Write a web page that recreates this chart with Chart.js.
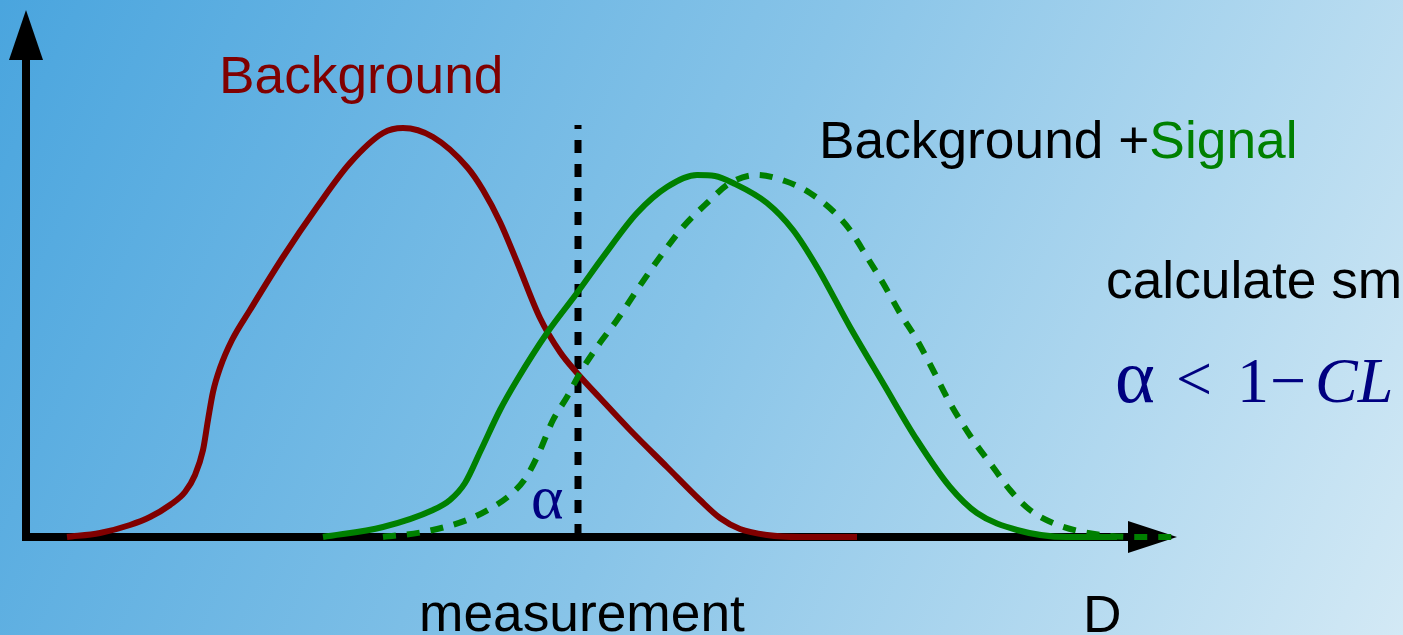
<!DOCTYPE html>
<html>
<head>
<meta charset="utf-8">
<title>Background vs Background+Signal</title>
<style>
  html, body { margin: 0; padding: 0; overflow: hidden; background: #8dc6e8; }
  #wrap { width: 1403px; height: 635px; }
</style>
</head>
<body>
<div id="wrap"><canvas id="myChart" width="1403" height="635"></canvas></div>
<script src="https://cdn.jsdelivr.net/npm/chart.js@4/dist/chart.umd.min.js"></script>
<script>
// test statistic D on x, probability density on y (arbitrary units)
var bkgX = [4.1, 7.4, 10.4, 12.4, 14.4, 15.9, 16.9, 17.7, 18.2, 18.7, 19.4, 20.6, 22.4, 25.7, 29.1, 32.4, 35.7, 37.7, 40.7, 44.1, 45.7, 47.4, 49.1, 51.4, 53.4, 55.1, 57.4, 60.4, 64.1, 67.4, 69.4, 71.4, 74.1, 77.4, 83.1];
var bkgY = [0, 0.4, 1.2, 2.0, 3.2, 4.5, 6.2, 8.7, 11.7, 14.5, 16.9, 19.7, 22.7, 28.0, 33.0, 37.4, 40.4, 40.9, 40.0, 37.0, 34.7, 31.5, 27.5, 21.9, 18.5, 16.4, 13.9, 10.7, 7.0, 3.7, 1.9, 0.8, 0.2, 0, 0];

var sigX = [29.7, 35.7, 40.7, 42.4, 43.9, 45.5, 47.4, 49.1, 52.1, 55.1, 57.7, 61.1, 64.1, 67.1, 68.9, 70.7, 74.1, 76.7, 79.1, 82.4, 85.7, 89.1, 92.4, 95.1, 99.1, 104.1, 109.1];
var sigY = [0, 1.0, 2.7, 3.7, 5.4, 8.7, 12.7, 15.7, 20.4, 24.4, 28.0, 32.4, 35.0, 36.2, 36.1, 35.4, 33.4, 30.7, 27.0, 21.0, 15.4, 9.7, 5.0, 2.4, 0.7, 0, 0];

var sig2X = [35.7, 39.7, 44.1, 46.7, 48.4, 49.9, 51.2, 52.7, 54.1, 55.4, 57.1, 59.1, 61.1, 63.4, 65.7, 68.1, 70.4, 73.1, 75.9, 78.4, 80.7, 82.4, 84.1, 85.7, 87.4, 89.1, 90.7, 92.4, 94.7, 96.7, 98.4, 100.4, 102.7, 105.7, 110.7, 114.7];
var sig2Y = [0, 0.5, 1.7, 3.0, 4.2, 5.8, 8.2, 11.7, 14.0, 16.4, 19.0, 21.7, 24.7, 28.0, 31.0, 33.4, 35.4, 36.2, 35.6, 34.4, 32.6, 30.7, 28.0, 25.4, 22.4, 19.7, 16.7, 13.4, 9.7, 7.0, 4.7, 2.7, 1.4, 0.5, 0, 0];

var measuredD = 55.2;
var cutTop = 41.2;
var axisEndX = 115.1;
var axisEndY = 52.7;

function pts(xs, ys) {
  return xs.map(function (x, i) { return { x: x, y: ys[i] }; });
}

var RED = '#800000';
var GREEN = '#008000';
var NAVY = '#000080';
var SANS = '51px "Liberation Sans", Arial, sans-serif';
var SERIF = '"Liberation Serif", "DejaVu Serif", serif';

var bgPlugin = {
  id: 'bg',
  beforeDraw: function (chart) {
    var c = chart.ctx;
    var g = c.createLinearGradient(0, 0, chart.width, chart.height);
    g.addColorStop(0, '#4aa5de');
    g.addColorStop(0.5, '#88c4e8');
    g.addColorStop(1, '#d3e9f5');
    c.save();
    c.fillStyle = g;
    c.fillRect(0, 0, chart.width, chart.height);
    c.restore();
  }
};

var axesPlugin = {
  id: 'axes',
  beforeDatasetsDraw: function (chart) {
    var c = chart.ctx;
    var xs = chart.scales.x, ys = chart.scales.y;
    var x0 = xs.getPixelForValue(0), y0 = ys.getPixelForValue(0);
    var xe = xs.getPixelForValue(axisEndX), ye = ys.getPixelForValue(axisEndY);
    c.save();
    c.fillStyle = '#000';
    c.strokeStyle = '#000';
    c.lineWidth = 8;
    c.beginPath();
    c.moveTo(x0, y0 + 4);
    c.lineTo(x0, ye + 45);
    c.stroke();
    c.beginPath();
    c.moveTo(x0 - 4, y0);
    c.lineTo(xe - 45, y0);
    c.stroke();
    // arrow heads
    c.beginPath();
    c.moveTo(x0, ye);
    c.lineTo(x0 - 17, ye + 50);
    c.lineTo(x0 + 17, ye + 50);
    c.closePath();
    c.fill();
    c.beginPath();
    c.moveTo(xe, y0);
    c.lineTo(xe - 49, y0 - 16);
    c.lineTo(xe - 49, y0 + 16);
    c.closePath();
    c.fill();
    c.restore();
  }
};

// sans text in the slide is a little wider than Liberation Sans
function wideText(c, txt, x, y, color) {
  c.save();
  c.translate(x, y);
  c.scale(1.045, 1);
  c.fillStyle = color;
  c.fillText(txt, 0, 0);
  var w = c.measureText(txt).width * 1.045;
  c.restore();
  return w;
}

var textPlugin = {
  id: 'labels',
  afterDatasetsDraw: function (chart) {
    var c = chart.ctx;
    c.save();
    c.textBaseline = 'alphabetic';
    c.textAlign = 'left';
    c.font = SANS;
    wideText(c, 'Background', 219, 93, RED);
    var w = wideText(c, 'Background +', 819, 158, '#000');
    wideText(c, 'Signal', 819 + w, 158, GREEN);
    wideText(c, 'calculate sm', 1106, 298, '#000');
    wideText(c, 'measurement', 419, 631, '#000');
    wideText(c, 'D', 1083, 632, '#000');

    // formula  alpha < 1 - CL
    c.fillStyle = NAVY;
    c.font = '76px ' + SERIF;
    c.fillText('\u03b1', 1115, 402);
    c.font = '64px ' + SERIF;
    c.fillText('<', 1176, 400);
    c.fillText('1', 1237, 402);
    c.fillText('\u2212', 1270, 402);
    c.font = 'italic 64px ' + SERIF;
    c.fillText('CL', 1315, 402);

    c.font = '62px ' + SERIF;
    c.fillText('\u03b1', 531, 518);
    c.restore();
  }
};

var ctx = document.getElementById('myChart').getContext('2d');
var chart = new Chart(ctx, {
  type: 'line',
  data: {
    datasets: [
      {
        label: 'Background + Signal',
        data: pts(sigX, sigY),
        borderColor: GREEN,
        borderWidth: 6,
        cubicInterpolationMode: 'monotone',
        pointRadius: 0,
        fill: false,
        order: 1
      },
      {
        label: 'Background + Signal (shifted)',
        data: pts(sig2X, sig2Y),
        borderColor: GREEN,
        borderWidth: 6,
        borderDash: [13, 11],
        cubicInterpolationMode: 'monotone',
        pointRadius: 0,
        fill: false,
        order: 2
      },
      {
        label: 'Background',
        data: pts(bkgX, bkgY),
        borderColor: RED,
        borderWidth: 6,
        cubicInterpolationMode: 'monotone',
        pointRadius: 0,
        fill: false,
        order: 3
      },
      {
        label: 'measurement',
        data: [{ x: measuredD, y: 0 }, { x: measuredD, y: cutTop }],
        borderColor: '#000',
        borderWidth: 7,
        borderDash: [13, 11],
        borderCapStyle: 'butt',
        pointRadius: 0,
        fill: false,
        order: 4
      }
    ]
  },
  options: {
    responsive: false,
    animation: false,
    layout: { padding: 0 },
    plugins: { legend: { display: false }, tooltip: { enabled: false } },
    scales: {
      x: { type: 'linear', display: false, min: -2.6, max: 137.7 },
      y: { type: 'linear', display: false, min: -9.8, max: 53.7 }
    }
  },
  plugins: [bgPlugin, axesPlugin, textPlugin]
});
</script>
</body>
</html>
